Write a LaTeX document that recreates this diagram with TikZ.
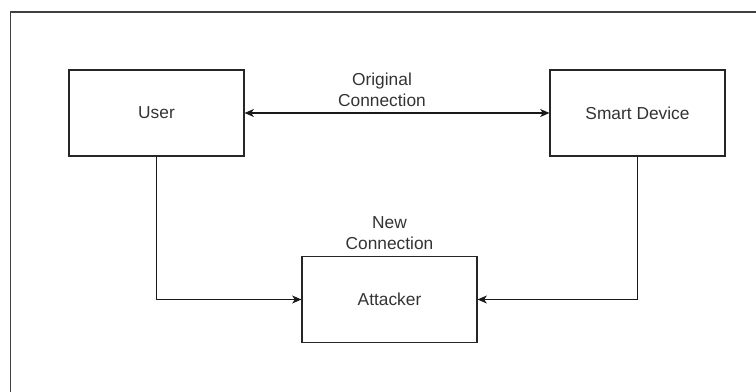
\documentclass[tikz,border=0pt]{standalone}
\usepackage{fontspec}
\setmainfont{Liberation Sans}
\usetikzlibrary{arrows.meta}
\begin{document}
\begin{tikzpicture}[x=0.75pt,y=-0.75pt,
  box/.style={draw=black!85,line width=0.8pt,minimum width=175*0.75pt,minimum height=86*0.75pt,inner sep=0pt,font=\fontsize{13}{16}\selectfont,text=black!80},
  lbl/.style={align=center,font=\fontsize{13}{16}\selectfont,text=black!80,inner sep=0pt},
  conn/.style={draw=black!90,line width=0.8pt,-{Stealth[length=7pt,width=6pt,inset=2pt]}}]
\useasboundingbox (0,0) rectangle (756,392);
\draw[black!75,line width=1.2pt] (756,12) -- (10.5,12) coordinate (fa) -- (10.5,392);
\node[box] (user) at (156.5,113) {User};
\node[box] (dev) at (637.5,113) {Smart Device};
\node[box] (att) at (389.5,299.5) {Attacker};
\draw[conn,{Stealth[length=7pt,width=6pt,inset=2pt]}-{Stealth[length=7pt,width=6pt,inset=2pt]}] (user) -- (dev);
\draw[conn] (user.south) |- (att.west);
\draw[conn] (dev.south) |- (att.east);
\node[lbl] (l1) at (382,90) {Original\\Connection};
\node[lbl] (l2) at (389.5,233) {New\\Connection};
\end{tikzpicture}
\end{document}
